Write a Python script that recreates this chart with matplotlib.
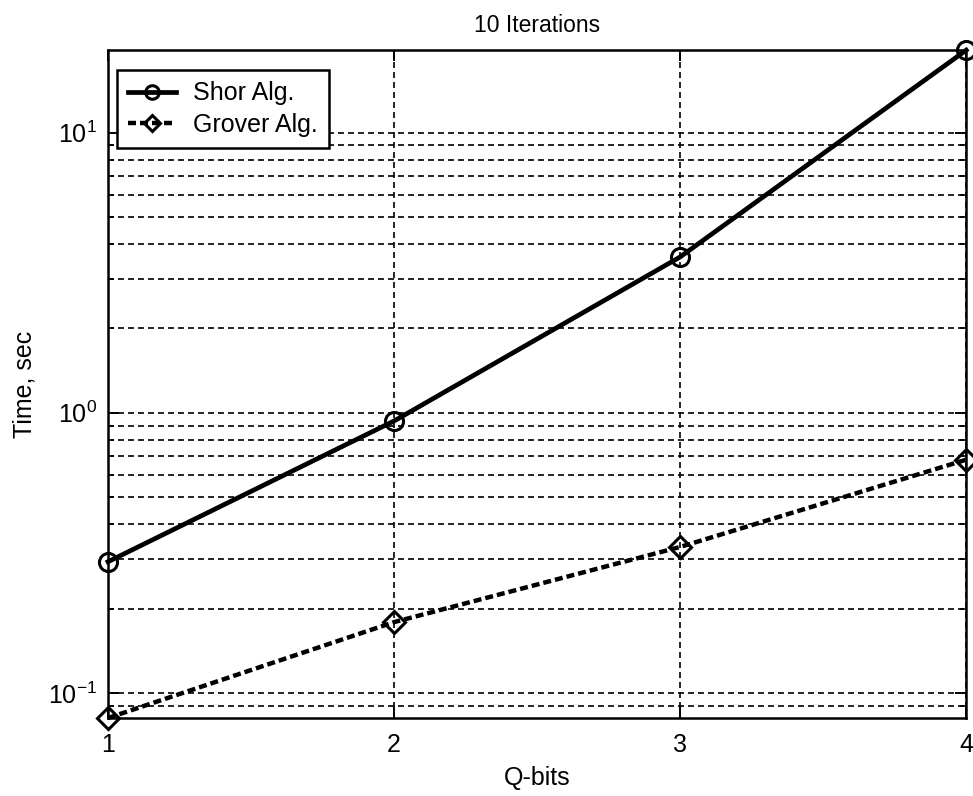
import numpy as np
import matplotlib.pyplot as plt
from matplotlib.ticker import LogLocator, NullFormatter, FixedLocator

plt.rcParams['font.family'] = ['Liberation Sans', 'DejaVu Sans']

# data
qbits = [1, 2, 3, 4]
shor_time = [0.294, 0.935, 3.6, 19.7]
grover_time = [0.0814, 0.179, 0.332, 0.68]

fig = plt.figure(figsize=(9.73, 7.96), dpi=100)
ax = fig.add_axes([0.111, 0.098, 0.882, 0.839])

ax.plot(qbits, shor_time, color='black', linestyle='-', linewidth=3.4,
        marker='o', markersize=13, markerfacecolor='none', markeredgewidth=2.2,
        label='Shor Alg.', clip_on=False, zorder=5)
ax.plot(qbits, grover_time, color='black', linestyle=(0, (1.8, 0.9)), linewidth=3.2,
        marker='D', markersize=11, markerfacecolor='none', markeredgewidth=2.2,
        label='Grover Alg.', clip_on=False, zorder=5)

ax.set_yscale('log')
ax.set_xlim(1, 4)
ax.set_ylim(min(grover_time), max(shor_time))
ax.xaxis.set_major_locator(FixedLocator(qbits))
ax.yaxis.set_major_locator(LogLocator(base=10))
ax.yaxis.set_minor_locator(LogLocator(base=10, subs=np.arange(2, 10)))
ax.yaxis.set_minor_formatter(NullFormatter())

grid_style = dict(color='black', linestyle=(0, (3.6, 2.4)), linewidth=1.2)
ax.grid(True, which='major', axis='both', **grid_style)
ax.grid(True, which='minor', axis='y', **grid_style)

ax.tick_params(which='both', direction='in', top=True, right=True, labelsize=18)
ax.tick_params(which='major', length=8, width=1.4)
ax.tick_params(which='minor', length=4, width=1.2)
ax.tick_params(axis='x', pad=11)
ax.tick_params(axis='y', pad=8)
for s in ax.spines.values():
    s.set_linewidth(1.8)

ax.set_title('10 Iterations', fontsize=16.5, pad=13)
ax.set_xlabel('Q-bits', fontsize=18, labelpad=6)
ax.set_ylabel('Time, sec', fontsize=18, labelpad=8)

leg = ax.legend(loc='upper left', bbox_to_anchor=(0.0105, 0.97), borderaxespad=0,
                fontsize=18, frameon=True, fancybox=False, edgecolor='black',
                framealpha=1, handlelength=1.9, handletextpad=0.7,
                labelspacing=0.3, borderpad=0.45, markerscale=0.75)
leg.get_frame().set_linewidth(1.8)

fig.savefig('out.png', dpi=100)
